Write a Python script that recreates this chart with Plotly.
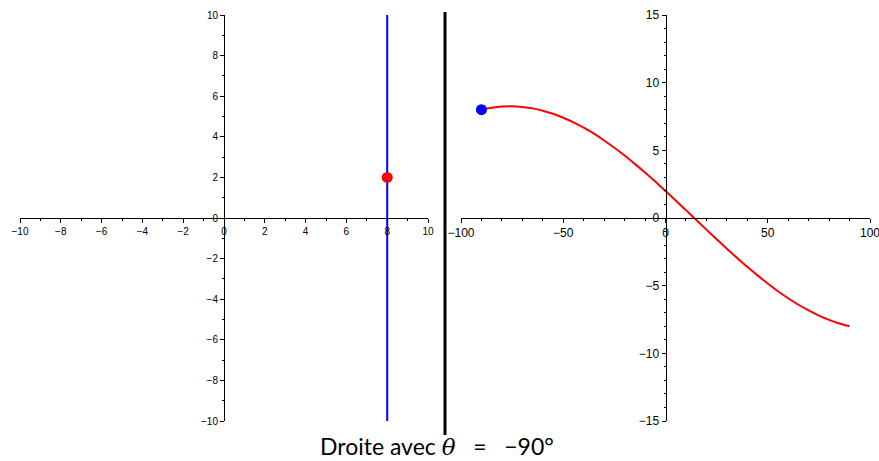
import plotly.graph_objects as go

# Left panel: line and point in image space
line_x = [8, 8]
line_y = [-10, 10]
point_x = [8]
point_y = [2]

# Right panel: curve in parameter space (theta in degrees, rho)
theta = [-90, -85, -80, -75, -70, -65, -60, -55, -50, -45, -40, -35, -30, -25, -20,
         -15, -10, -5, 0, 5, 10, 15, 20, 25, 30, 35, 40, 45, 50, 55, 60, 65, 70,
         75, 80, 85, 90]
rho = [8.00, 8.14, 8.23, 8.25, 8.20, 8.10, 7.93, 7.70, 7.41, 7.07, 6.67, 6.23, 5.73,
       5.19, 4.62, 4.00, 3.36, 2.69, 2.00, 1.30, 0.58, -0.14, -0.86, -1.57, -2.27,
       -2.95, -3.61, -4.24, -4.84, -5.41, -5.93, -6.41, -6.83, -7.21, -7.53, -7.80,
       -8.00]
current_theta = [-90]
current_rho = [8.00]

W, H = 879, 461
left_px = (20, 428)
right_px = (461, 870)
top_px, bot_px = 15, 421

def px_x(p):
    return p / W

def px_y(p):
    return (H - p) / H

fig = go.Figure()
fig.add_trace(go.Scatter(x=line_x, y=line_y, mode="lines",
                         line=dict(color="#0000ff", width=2), xaxis="x", yaxis="y",
                         showlegend=False, hoverinfo="skip"))
fig.add_trace(go.Scatter(x=point_x, y=point_y, mode="markers",
                         marker=dict(color="#ff0000", size=11), xaxis="x", yaxis="y",
                         showlegend=False))
fig.add_trace(go.Scatter(x=theta, y=rho, mode="lines", line_shape="spline",
                         line=dict(color="#ff0000", width=2), xaxis="x2", yaxis="y2",
                         showlegend=False))
fig.add_trace(go.Scatter(x=current_theta, y=current_rho, mode="markers",
                         marker=dict(color="#0000ff", size=11), xaxis="x2", yaxis="y2",
                         showlegend=False))

ydom = [px_y(bot_px), px_y(top_px)]
ymid = (ydom[0] + ydom[1]) / 2
ldom = [px_x(left_px[0]), px_x(left_px[1])]
rdom = [px_x(right_px[0]), px_x(right_px[1])]

common = dict(showgrid=False, zeroline=False, showline=True, linecolor="black",
              linewidth=1, ticks="outside", ticklen=4, tickcolor="black",
              anchor="free", fixedrange=True, automargin=False,
              ticklabeloverflow="allow")

nb = "\u00a0"
title = ("Droite avec " + "<span style='font-family:DejaVu Serif'><i>θ</i></span>"
         + nb * 3 + "=" + nb * 3 + "−90°")

fig.update_layout(
    width=W, height=H,
    margin=dict(l=0, r=0, t=0, b=0, pad=0, autoexpand=False),
    plot_bgcolor="white", paper_bgcolor="white",
    font=dict(family="Liberation Sans, Arial, sans-serif", color="black"),
    xaxis=dict(domain=ldom, range=[-10, 10], dtick=2, position=ymid,
               minor=dict(dtick=1, ticklen=2, ticks="outside", tickcolor="black"),
               tickfont=dict(size=10), **common),
    yaxis=dict(domain=ydom, range=[-10, 10], dtick=2, position=(ldom[0] + ldom[1]) / 2,
               minor=dict(dtick=1, ticklen=2, ticks="outside", tickcolor="black"),
               tickfont=dict(size=10), **common),
    xaxis2=dict(domain=rdom, range=[-100, 100], dtick=50, position=ymid,
                minor=dict(dtick=10, ticklen=2, ticks="outside", tickcolor="black"),
                tickfont=dict(size=12), **common),
    yaxis2=dict(domain=ydom, range=[-15, 15], dtick=5, position=(rdom[0] + rdom[1]) / 2,
                minor=dict(dtick=1, ticklen=2, ticks="outside", tickcolor="black"),
                tickfont=dict(size=12), **common),
    shapes=[dict(type="line", xref="paper", yref="paper",
                 x0=px_x(445), x1=px_x(445), y0=px_y(435), y1=px_y(12),
                 line=dict(color="black", width=3))],
    annotations=[dict(xref="paper", yref="paper", x=px_x(437), y=px_y(446),
                      xanchor="center", yanchor="middle", showarrow=False,
                      text=title,
                      font=dict(size=23, family="Lato, sans-serif", color="black"))],
)

fig.write_html("out.html")
